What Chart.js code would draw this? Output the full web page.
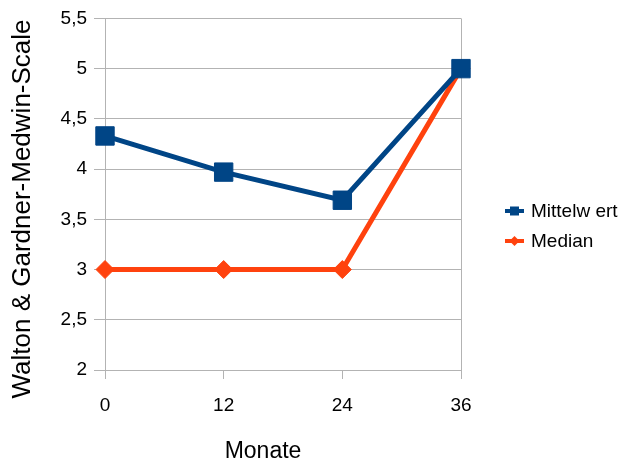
<!DOCTYPE html>
<html>
<head>
<meta charset="utf-8">
<script src="https://cdn.jsdelivr.net/npm/chart.js@4/dist/chart.umd.min.js"></script>
<style>
  html, body { margin: 0; padding: 0; background: #ffffff; }
  #wrap { width: 624px; height: 464px; position: relative; }
</style>
</head>
<body>
<div id="wrap"><canvas id="c" width="624" height="464"></canvas></div>
<script>
// Monate (Messzeitpunkte)
const months = ['0', '12', '24', '36'];
// Walton & Gardner-Medwin-Scale
const meanValues = [4.33, 3.97, 3.69, 5.0];
const medianValues = [3, 3, 3, 5];
const seriesNames = ['Mittelw ert', 'Median'];
const yTitle = 'Walton & Gardner-Medwin-Scale';
const xTitle = 'Monate';

const BLUE = '#004586';
const ORANGE = '#ff420e';
const GRID = '#b3b3b3';
const FONT = '"Liberation Sans", Arial, sans-serif';

// Right-hand frame line of the plot area
const frameRight = {
  id: 'frameRight',
  beforeDatasetsDraw(chart) {
    const { ctx, chartArea } = chart;
    ctx.save();
    ctx.strokeStyle = GRID;
    ctx.lineWidth = 1;
    ctx.beginPath();
    ctx.moveTo(Math.round(chartArea.right) + 0.5, chartArea.top);
    ctx.lineTo(Math.round(chartArea.right) + 0.5, chartArea.bottom);
    ctx.stroke();
    ctx.restore();
  }
};

// Axis titles
const axisTitles = {
  id: 'axisTitles',
  afterDraw(chart) {
    const { ctx } = chart;
    ctx.save();
    ctx.fillStyle = '#000000';
    ctx.textAlign = 'center';
    ctx.textBaseline = 'middle';
    ctx.font = '23px ' + FONT;
    ctx.fillText(xTitle, 263, 452);
    ctx.translate(23, 209);
    ctx.rotate(-Math.PI / 2);
    ctx.font = '26px ' + FONT;
    ctx.fillText(yTitle, 0, 0);
    ctx.restore();
  }
};

// Legend with line + marker samples
const lineLegend = {
  id: 'lineLegend',
  afterDraw(chart) {
    const { ctx } = chart;
    const x0 = 505, x1 = 524, tx = 531;
    const rows = [211, 241];
    chart.data.datasets.forEach((ds, i) => {
      const y = rows[i];
      ctx.save();
      ctx.strokeStyle = ds.borderColor;
      ctx.lineWidth = 4;
      ctx.beginPath();
      ctx.moveTo(x0, y);
      ctx.lineTo(x1, y);
      ctx.stroke();
      ctx.fillStyle = ds.borderColor;
      const cx = (x0 + x1) / 2;
      ctx.beginPath();
      if (ds.pointStyle === 'rect') {
        ctx.rect(cx - 4.5, y - 4.5, 9, 9);
      } else {
        ctx.moveTo(cx, y - 5);
        ctx.lineTo(cx + 5, y);
        ctx.lineTo(cx, y + 5);
        ctx.lineTo(cx - 5, y);
        ctx.closePath();
      }
      ctx.fill();
      ctx.fillStyle = '#000000';
      ctx.font = '19px ' + FONT;
      ctx.textAlign = 'left';
      ctx.textBaseline = 'middle';
      ctx.fillText(ds.label, tx, y + 1);
      ctx.restore();
    });
  }
};

new Chart(document.getElementById('c'), {
  type: 'line',
  data: {
    labels: months,
    datasets: [
      {
        label: seriesNames[0],
        data: meanValues,
        borderColor: BLUE,
        backgroundColor: BLUE,
        borderWidth: 5,
        pointStyle: 'rect',
        pointRadius: 13,
        pointBorderWidth: 1,
        pointHoverRadius: 13,
        tension: 0
      },
      {
        label: seriesNames[1],
        data: medianValues,
        borderColor: ORANGE,
        backgroundColor: ORANGE,
        borderWidth: 5,
        pointStyle: 'rectRot',
        pointRadius: 9,
        pointBorderWidth: 1,
        pointHoverRadius: 9,
        tension: 0
      }
    ]
  },
  options: {
    responsive: false,
    animation: false,
    layout: { padding: { top: 16, right: 163, bottom: 0, left: 0 } },
    plugins: {
      legend: { display: false },
      tooltip: { enabled: false }
    },
    scales: {
      x: {
        offset: false,
        grid: {
          drawOnChartArea: false,
          drawTicks: true,
          tickLength: 9,
          color: GRID
        },
        border: { display: true, color: GRID },
        ticks: {
          color: '#000000',
          font: { family: FONT, size: 19 },
          padding: 15,
          maxRotation: 0
        },
        afterFit(scale) { scale.height = 94; }
      },
      y: {
        min: 2,
        max: 5.5,
        grid: {
          color: GRID,
          drawTicks: true,
          tickLength: 11
        },
        border: { display: true, color: GRID },
        ticks: {
          stepSize: 0.5,
          color: '#000000',
          font: { family: FONT, size: 19 },
          padding: 7,
          callback: (v) => String(v).replace('.', ',')
        },
        afterFit(scale) { scale.width = 105; }
      }
    }
  },
  plugins: [frameRight, axisTitles, lineLegend]
});
</script>
</body>
</html>
